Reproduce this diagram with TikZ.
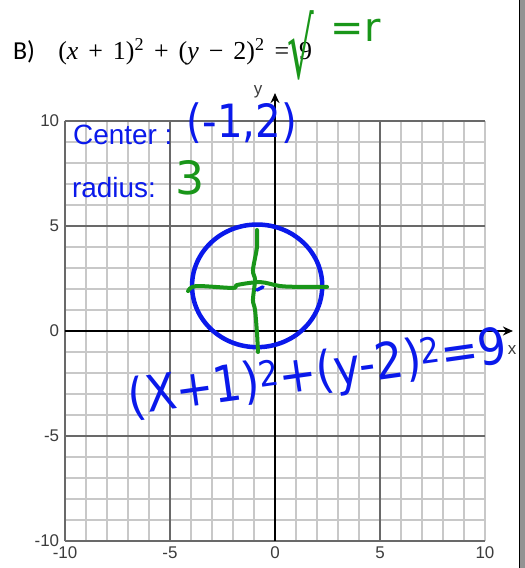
\documentclass[tikz,border=0pt]{standalone}
\usepackage{fontspec}
\setmainfont{Liberation Sans}
\newfontfamily\calibri{Carlito}
\newfontfamily\cambria{Liberation Serif}
\newfontfamily\hand{DejaVu Sans}
\usepackage{xcolor}
\usetikzlibrary{arrows.meta,positioning,calc}
\definecolor{inkblue}{RGB}{10,25,235}
\definecolor{inkgreen}{RGB}{25,150,25}
\definecolor{minorgray}{RGB}{200,200,200}
\definecolor{majorgray}{RGB}{105,105,105}
\definecolor{ticktext}{RGB}{60,60,60}
\newcommand\opgap{\hspace{10bp}}

\begin{document}
\begin{tikzpicture}[x=21bp, y=21bp, >=Stealth,
  minor/.style={draw=minorgray, line width=1.3bp},
  major/.style={draw=majorgray, line width=1.3bp},
  axis/.style={draw=black, line width=1.8bp},
  tick/.style={font=\fontsize{17}{17}\selectfont, text=ticktext, inner sep=1.5bp},
  printed/.style={font=\fontsize{28}{28}\selectfont, text=inkblue, inner sep=0pt},
  ink/.style={line width=4.5bp, line cap=round, line join=round},
  handtext/.style={font=\hand\fontsize{42}{42}\selectfont, inner sep=0pt}]
  \useasboundingbox[fill=white] (-13.0952,-11.2857) rectangle (11.9048,15.7619);

  % window edge
  \fill[gray!85] (11.619,-11.2857) rectangle (11.9048,15.7619);
  \draw[black, line width=1bp] (11.64,-11.2857) -- (11.64,15.7619);

  % grid
  \foreach \i in {-10,...,10} {
    \draw[minor] (\i,-10) -- (\i,10);
    \draw[minor] (-10,\i) -- (10,\i);
  }
  \foreach \i in {-10,-5,5}
    \draw[major] (\i,-10) -- (\i,10);
  \foreach \i in {-10,-5,5,10}
    \draw[major] (-10,\i) -- (10,\i);

  % axes
  \coordinate (xl) at (-10,0);
  \coordinate (xr) at (11.33,0);
  \coordinate (yb) at (0,-10);
  \coordinate (yt) at (0,11.33);
  \draw[axis, -{Stealth[length=10bp, width=9bp]}] (xl) -- (xr);
  \draw[axis, -{Stealth[length=10bp, width=9bp]}] (yb) -- (yt);
  \node[tick] (xlabel) at (11.29,-0.9) {x};
  \node[tick] (ylabel) at (-0.81,11.38) {y};

  \foreach \v in {10,5,0,-5,-10} {
    \node[tick, anchor=east] (left\v) at (-10.2,\v) {\v};
    \node[tick, anchor=north] (bottom\v) at (\v,-10.2) {\v};
  }

  % printed text
  \node[anchor=base west, inner sep=0pt, font=\calibri\fontsize{26}{26}\selectfont] (part) at (-12.48,12.95) {B)};
  \node[anchor=base west, inner sep=0pt, font=\cambria\fontsize{26}{26}\selectfont] (task) at (-10.33,12.95)
    {(\textit{x}\opgap+\opgap1)\textsuperscript{2}\opgap+\opgap(\textit{y}\opgap−\opgap2)\textsuperscript{2}\opgap=\opgap9};
  \node[printed, anchor=base west] (center) at (-9.62,8.86) {Center :};
  \node[printed, anchor=base west] (radius) at (-9.67,6.38) {radius:};

  % handwriting
  \node[handtext, text=inkblue, font=\hand\fontsize{46}{46}\selectfont, xscale=0.88] (cval) at (-1.57,9.9) {(-1,2)};
  \node[handtext, text=inkgreen, font=\hand\fontsize{46}{46}\selectfont] (rval) at (-4.05,7.29) {3};
  \node[handtext, text=inkgreen, font=\hand\fontsize{84}{84}\selectfont, xscale=0.5] (root) at (1.25,13.6) {√};
  \node[handtext, text=inkgreen, font=\hand\fontsize{40}{40}\selectfont] (eqr) at (3.85,14.3) {=r};
  \node[handtext, text=inkblue, font=\hand\fontsize{45}{45}\selectfont, rotate=8, yscale=1.12] (std) at (2.05,-2.1)
    {(X+1)\textsuperscript{2}+(y-2)\textsuperscript{2}=9};

  % circle and radii
  \draw[ink, inkblue] (-0.85,2.15) ellipse [x radius=3.1, y radius=2.92];
  \draw[ink, inkgreen, line width=4bp] plot[smooth, tension=0.5] coordinates {
    (-0.857,4.81) (-0.857,4.0) (-1.05,2.9) (-0.95,2.43) (-1.05,1.48)
    (-0.95,1.0) (-0.857,-0.1) (-0.81,-1.0)};
  \draw[ink, inkgreen, line width=4bp] plot[smooth, tension=0.5] coordinates {
    (-4.14,1.9) (-3.76,2.14) (-2.0,2.05) (-1.81,2.19) (-0.71,2.33)
    (0.24,2.14) (1.19,2.1) (2.48,2.1)};
  \draw[ink, inkblue, line width=3.5bp] (-0.86,1.95) -- (-0.57,2.1);
\end{tikzpicture}
\end{document}
